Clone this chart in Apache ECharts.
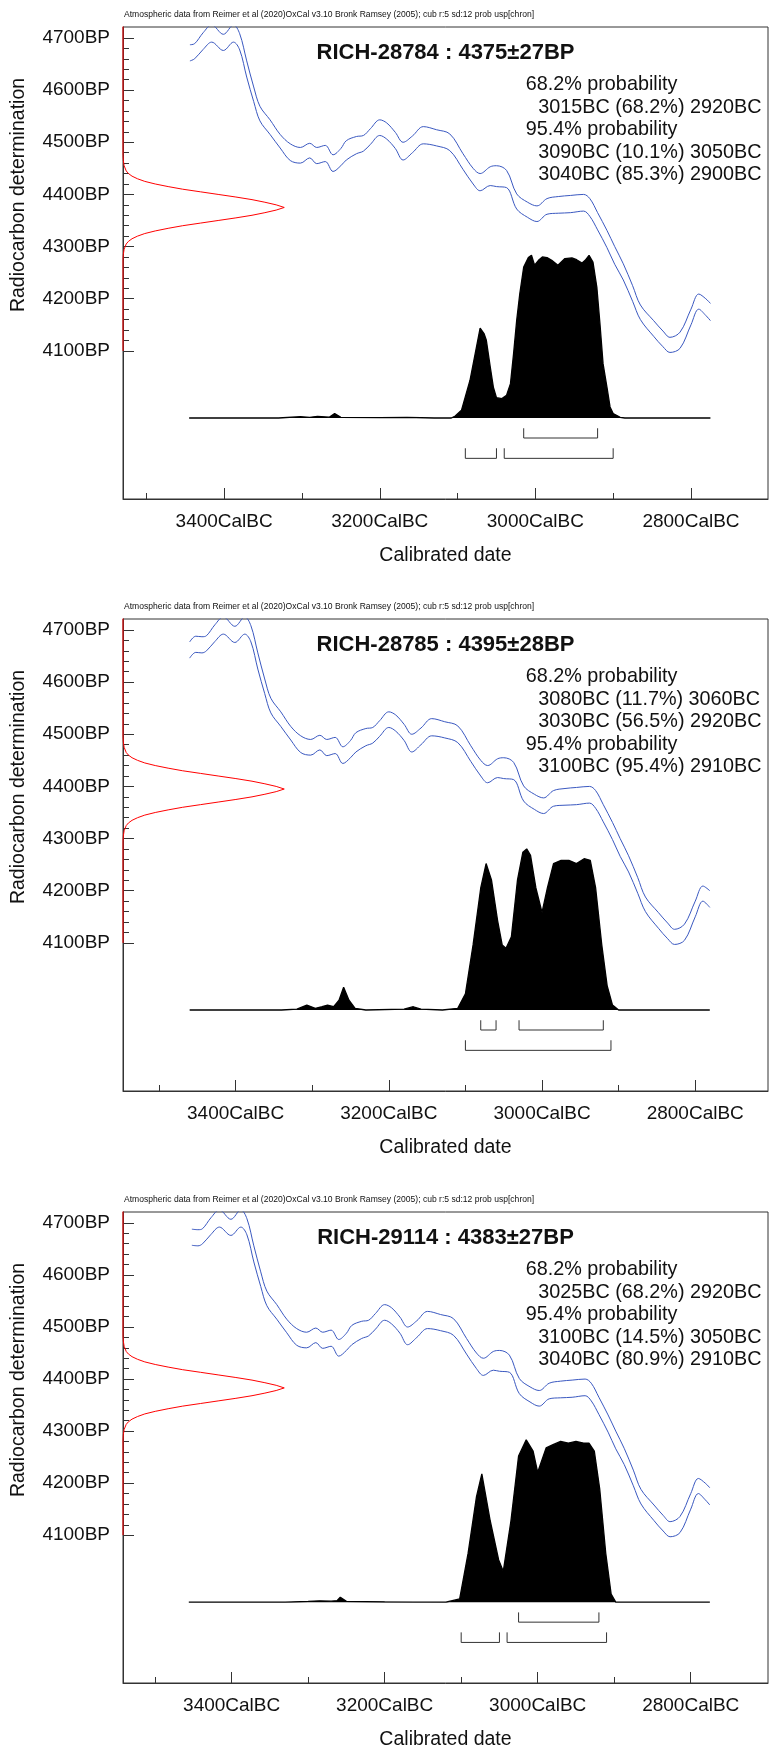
<!DOCTYPE html>
<html><head><meta charset="utf-8">
<script src="https://cdn.jsdelivr.net/npm/echarts@6/dist/echarts.min.js"></script>
<style>html,body{margin:0;padding:0;background:#fff}#chart{width:771px;height:1751px}</style>
</head><body><div id="chart"></div>
<script>
// ---------------- data ----------------
const labIds = ['RICH-28784', 'RICH-28785', 'RICH-29114'];
const c14Age = [4375, 4395, 4383];
const c14Err = [27, 28, 27];
const headerNote = 'Atmospheric data from Reimer et al (2020)OxCal v3.10 Bronk Ramsey (2005); cub r:5 sd:12 prob usp[chron]';

const statLines = [
  ['68.2% probability', '3015BC (68.2%) 2920BC', '95.4% probability', '3090BC (10.1%) 3050BC', '3040BC (85.3%) 2900BC'],
  ['68.2% probability', '3080BC (11.7%) 3060BC', '3030BC (56.5%) 2920BC', '95.4% probability', '3100BC (95.4%) 2910BC'],
  ['68.2% probability', '3025BC (68.2%) 2920BC', '95.4% probability', '3100BC (14.5%) 3050BC', '3040BC (80.9%) 2910BC']
];
const range68 = [[[3015, 2920]], [[3080, 3060], [3030, 2920]], [[3025, 2920]]];
const range95 = [[[3090, 3050], [3040, 2900]], [[3100, 2910]], [[3100, 3050], [3040, 2910]]];

// calibration curve (years BC, upper / lower envelope in BP)
const calYears = [3460, 3452, 3444, 3438, 3427, 3416, 3401, 3388, 3380, 3371, 3362, 3354, 3341, 3328, 3315, 3302, 3290, 3281, 3270, 3260, 3250, 3243, 3230, 3221, 3212, 3200, 3191, 3180, 3170, 3158, 3144, 3127, 3110, 3093, 3080, 3071, 3058, 3050, 3037, 3024, 3010, 2998, 2985, 2970, 2955, 2938, 2930, 2920, 2908, 2898, 2887, 2875, 2865, 2848, 2836, 2827, 2814, 2800, 2790, 2781, 2775];
const calUpper = [4677, 4688, 4687, 4689, 4710, 4725, 4707, 4725, 4708, 4656, 4606, 4569, 4543, 4515, 4497, 4490, 4498, 4490, 4494, 4476, 4488, 4503, 4511, 4513, 4526, 4543, 4537, 4519, 4500, 4512, 4530, 4524, 4516, 4478, 4450, 4440, 4453, 4455, 4446, 4401, 4385, 4378, 4392, 4396, 4398, 4400, 4392, 4365, 4331, 4300, 4267, 4225, 4188, 4158, 4138, 4126, 4136, 4180, 4209, 4200, 4191];
const calLower = [4646, 4657, 4656, 4660, 4678, 4692, 4676, 4692, 4677, 4625, 4578, 4541, 4515, 4489, 4465, 4460, 4470, 4459, 4463, 4444, 4455, 4466, 4478, 4483, 4496, 4513, 4506, 4488, 4466, 4480, 4497, 4493, 4484, 4448, 4420, 4407, 4417, 4415, 4413, 4372, 4356, 4348, 4362, 4364, 4365, 4368, 4358, 4332, 4298, 4266, 4236, 4195, 4160, 4128, 4108, 4097, 4105, 4150, 4180, 4168, 4158];
const curveSpan = [[3445, 2775], [3460, 2781], [3456, 2775]];

// calibrated probability distributions (year BC, relative probability)
const distYears1 = [3445, 3330, 3302, 3290, 3280, 3265, 3258, 3250, 3200, 3165, 3130, 3108, 3103, 3095, 3084, 3071, 3066, 3063, 3058, 3054, 3050, 3043, 3037, 3032, 3028, 3024, 3020, 3015, 3009, 3005, 3001, 2996, 2991, 2985, 2979, 2971, 2962, 2953, 2947, 2940, 2936, 2931, 2926, 2921, 2917, 2913, 2908, 2904, 2900, 2891, 2885, 2775];
const distProb1 = [0, 0, 0.008, 0.004, 0.01, 0.005, 0.027, 0.004, 0.002, 0.004, 0, 0, 0.012, 0.047, 0.232, 0.553, 0.519, 0.478, 0.314, 0.19, 0.125, 0.119, 0.14, 0.211, 0.396, 0.6, 0.765, 0.928, 0.986, 1.0, 0.939, 0.969, 0.99, 0.986, 0.969, 0.939, 0.98, 0.984, 0.973, 0.953, 0.969, 1.0, 0.959, 0.805, 0.58, 0.334, 0.19, 0.068, 0.027, 0.004, 0, 0];
const distYears2 = [3460, 3340, 3320, 3307, 3296, 3287, 3280, 3272, 3265, 3259, 3252, 3244, 3230, 3180, 3168, 3158, 3130, 3110, 3100, 3090, 3080, 3073, 3066, 3058, 3052, 3047, 3040, 3032, 3025, 3020, 3015, 3008, 3000, 2993, 2985, 2975, 2965, 2955, 2945, 2937, 2930, 2922, 2915, 2908, 2900, 2781];
const distProb2 = [0, 0, 0.005, 0.03, 0.01, 0.02, 0.03, 0.02, 0.06, 0.14, 0.06, 0.01, 0, 0.005, 0.02, 0.005, 0, 0.01, 0.1, 0.4, 0.75, 0.9, 0.8, 0.55, 0.4, 0.38, 0.45, 0.8, 0.97, 0.99, 0.95, 0.75, 0.6, 0.75, 0.9, 0.92, 0.92, 0.9, 0.93, 0.92, 0.75, 0.4, 0.15, 0.03, 0, 0];
const distYears3 = [3456, 3330, 3300, 3285, 3270, 3262, 3258, 3250, 3200, 3120, 3102, 3091, 3080, 3073, 3062, 3051, 3045, 3035, 3025, 3015, 3006, 3000, 2989, 2980, 2970, 2960, 2950, 2940, 2933, 2926, 2919, 2911, 2904, 2898, 2775];
const distProb3 = [0, 0, 0.005, 0.008, 0.006, 0.01, 0.03, 0.005, 0.002, 0, 0.02, 0.3, 0.65, 0.79, 0.5, 0.26, 0.19, 0.5, 0.9, 1.0, 0.93, 0.8, 0.95, 0.97, 0.99, 0.98, 0.99, 0.98, 0.98, 0.93, 0.7, 0.3, 0.05, 0, 0];
const distYears = [distYears1, distYears2, distYears3];
const distProb = [distProb1, distProb2, distProb3];

// radiocarbon likelihood shape (offset from the measured age in BP, relative height)
const likOffsets = [-100, -90, -80, -70, -65, -60, -55, -50, -45, -40, -35, -30, -25, -20, -15, -10, -5, 0, 5, 10, 15, 20, 25, 30, 35, 40, 45, 50, 55, 60, 65, 70, 80, 90, 100];
const likHeights = [0, 0.002, 0.007, 0.02, 0.034, 0.056, 0.09, 0.135, 0.2, 0.28, 0.37, 0.48, 0.59, 0.7, 0.8, 0.88, 0.95, 1, 0.95, 0.88, 0.8, 0.7, 0.59, 0.48, 0.37, 0.28, 0.2, 0.135, 0.09, 0.056, 0.034, 0.02, 0.007, 0.002, 0];

// axes
const xTickMajor = [3400, 3200, 3000, 2800];
const xTickMinor = [3500, 3300, 3100, 2900];
const yTickMajor = [4100, 4200, 4300, 4400, 4500, 4600, 4700];
const yTickMinor = [4120, 4140, 4160, 4180, 4220, 4240, 4260, 4280, 4320, 4340, 4360, 4380, 4420, 4440, 4460, 4480, 4520, 4540, 4560, 4580, 4620, 4640, 4660, 4680];
const xExtent = [[2701, 3530], [2705, 3547], [2699, 3542]];
const yExtent = [3816, 4721];
const likelihoodSpan = [4100, 4730];

// ---------------- layout ----------------
const FONT = '"Liberation Sans", Arial, Helvetica, sans-serif';
const GL = 123, GW = 645, GH = 472;
const tops = [27, 619, 1212];
const BASE = 391, UNIT = 162.7; // px from grid top to distribution baseline; px per unit prob
const AX = '#333';
const BLUE = '#3a58c0';

const grid = [], xAxis = [], yAxis = [], series = [], graphic = [];

for (let i = 0; i < 3; i++) {
  const top = tops[i];
  grid.push({ left: GL, top: top, width: GW, height: GH, show: true, borderColor: AX, borderWidth: 1, backgroundColor: 'transparent' });

  // main year axis (minor ticks + labels)
  xAxis.push({
    gridIndex: i, type: 'value', position: 'bottom', inverse: true, min: xExtent[i][0], max: xExtent[i][1],
    axisLine: { show: true, onZero: false, lineStyle: { color: AX, width: 1 } },
    axisTick: { show: true, inside: true, length: 6, customValues: xTickMinor, lineStyle: { color: AX } },
    axisLabel: { show: true, customValues: xTickMajor, margin: 13, color: '#111', fontFamily: FONT, fontSize: 19, formatter: v => v + 'CalBC' },
    splitLine: { show: false },
    name: 'Calibrated date', nameLocation: 'middle', nameGap: 47,
    nameTextStyle: { color: '#111', fontFamily: FONT, fontSize: 19.5 }
  });
  // major year ticks
  xAxis.push({
    gridIndex: i, type: 'value', position: 'bottom', inverse: true, min: xExtent[i][0], max: xExtent[i][1],
    axisLine: { show: false, onZero: false },
    axisTick: { show: true, inside: true, length: 11, customValues: xTickMajor, lineStyle: { color: AX } },
    axisLabel: { show: false }, splitLine: { show: false }
  });
  // likelihood helper
  xAxis.push({ gridIndex: i, type: 'value', position: 'top', min: 0, max: 4, show: false, axisLine: { onZero: false } });

  // BP axis (major ticks + labels)
  yAxis.push({
    gridIndex: i, type: 'value', position: 'left', min: yExtent[0], max: yExtent[1],
    axisLine: { show: true, onZero: false, lineStyle: { color: AX, width: 1 } },
    axisTick: { show: true, inside: true, length: 11, customValues: yTickMajor, lineStyle: { color: AX } },
    axisLabel: { show: true, customValues: yTickMajor, margin: 13, color: '#111', fontFamily: FONT, fontSize: 19, formatter: v => v + 'BP' },
    splitLine: { show: false }
  });
  // BP minor ticks
  yAxis.push({
    gridIndex: i, type: 'value', position: 'left', min: yExtent[0], max: yExtent[1],
    axisLine: { show: false, onZero: false },
    axisTick: { show: true, inside: true, length: 6, customValues: yTickMinor, lineStyle: { color: AX } },
    axisLabel: { show: false }, splitLine: { show: false }
  });
  // probability helper
  yAxis.push({ gridIndex: i, type: 'value', position: 'right', min: -(GH - BASE) / UNIT, max: BASE / UNIT, show: false, axisLine: { onZero: false } });

  const xi = 3 * i, yi = 3 * i;
  const [cs, ce] = curveSpan[i];
  const up = [], lo = [];
  calYears.forEach((y, k) => {
    if (y <= cs && y >= ce) { up.push([y, calUpper[k]]); lo.push([y, calLower[k]]); }
  });
  const lineCommon = { type: 'line', xAxisIndex: xi, yAxisIndex: yi, symbol: 'none', smooth: 0.35, silent: true, z: 3 };
  series.push(Object.assign({}, lineCommon, { data: up, lineStyle: { color: BLUE, width: 1 } }));
  series.push(Object.assign({}, lineCommon, { data: lo, lineStyle: { color: BLUE, width: 1 } }));

  // distribution
  series.push({
    type: 'line', xAxisIndex: xi, yAxisIndex: yi + 2, symbol: 'none', silent: true, z: 4,
    data: distYears[i].map((y, k) => [y, distProb[i][k]]),
    lineStyle: { color: '#000', width: 1.3 }, areaStyle: { color: '#000', opacity: 1 }
  });

  // range brackets
  const br = [];
  const addRow = (ranges, t, b) => ranges.forEach(([a, z]) => { br.push([a, t], [a, b], [z, b], [z, t], [null, null]); });
  addRow(range68[i], -0.063, -0.123);
  addRow(range95[i], -0.186, -0.248);
  series.push({
    type: 'line', xAxisIndex: xi, yAxisIndex: yi + 2, symbol: 'none', silent: true, z: 4, connectNulls: false,
    data: br, lineStyle: { color: AX, width: 1 }
  });

  // likelihood (red)
  const lik = [[0, likelihoodSpan[0]]];
  likOffsets.forEach((o, k) => lik.push([likHeights[k], c14Age[i] + o]));
  lik.push([0, likelihoodSpan[1]]);
  series.push({
    type: 'line', xAxisIndex: xi + 2, yAxisIndex: yi, symbol: 'none', silent: true, z: 5,
    data: lik, lineStyle: { color: '#ff0000', width: 1 }
  });

  // texts
  graphic.push({ type: 'text', x: 124, y: top - 12, scaleX: 0.95, silent: true,
    style: { text: headerNote, font: '9px ' + FONT, fill: '#111', textAlign: 'left', textVerticalAlign: 'middle' } });
  graphic.push({ type: 'text', x: GL + GW / 2, y: top + 25.5, silent: true,
    style: { text: labIds[i] + ' : ' + c14Age[i] + '\u00b1' + c14Err[i] + 'BP', font: 'bold 22px ' + FONT, fill: '#111', textAlign: 'center', textVerticalAlign: 'middle' } });
  statLines[i].forEach((t, k) => {
    const isHead = /probability/.test(t);
    graphic.push({ type: 'text', x: isHead ? 525.7 : 538.3, y: top + 57.5 + k * 22.6, silent: true,
      style: { text: t, font: '19.8px ' + FONT, fill: '#111', textAlign: 'left', textVerticalAlign: 'middle' } });
  });
  graphic.push({ type: 'text', x: 19, y: top + 168, rotation: Math.PI / 2, silent: true,
    style: { text: 'Radiocarbon determination', font: '19.5px ' + FONT, fill: '#111', textAlign: 'center', textVerticalAlign: 'middle' } });
}

const chart = echarts.init(document.getElementById('chart'), null, { renderer: 'canvas' });
chart.setOption({ animation: false, backgroundColor: '#fff', grid, xAxis, yAxis, series, graphic });
</script></body></html>
